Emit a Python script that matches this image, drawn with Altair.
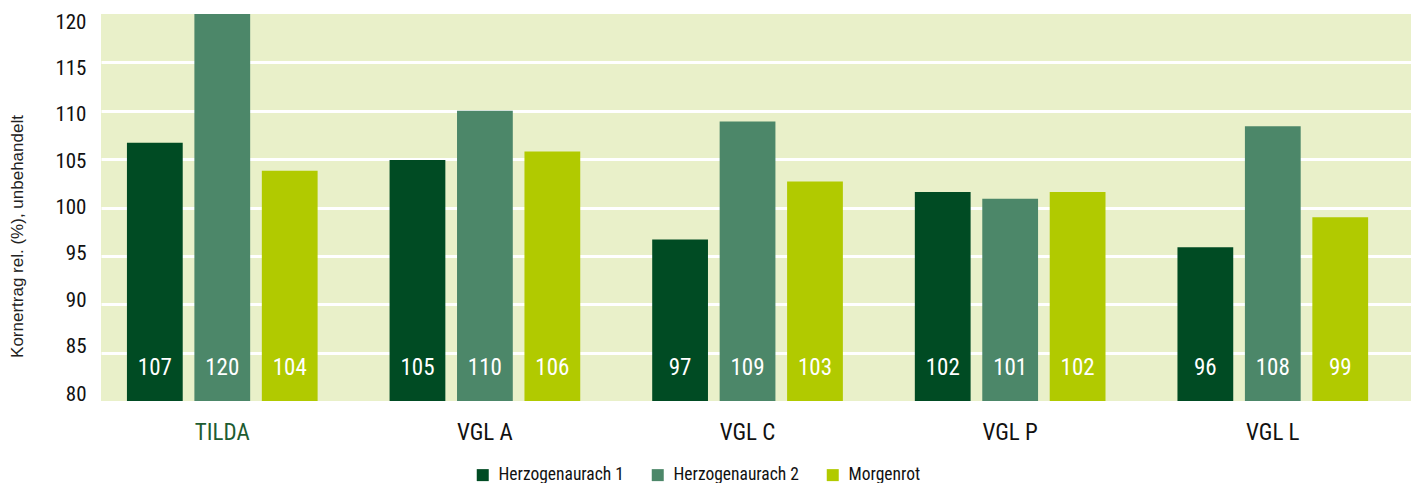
import altair as alt
import pandas as pd

groups = ["TILDA", "VGL A", "VGL C", "VGL P", "VGL L"]
series = ["Herzogenaurach 1", "Herzogenaurach 2", "Morgenrot"]
h1_vals = [106.7, 104.9, 96.7, 101.6, 95.9]
h2_vals = [120.0, 110.0, 108.9, 100.9, 108.4]
mr_vals = [103.8, 105.8, 102.7, 101.6, 99.0]
h1_lab = ["107", "105", "97", "102", "96"]
h2_lab = ["120", "110", "109", "101", "108"]
mr_lab = ["104", "106", "103", "102", "99"]
y_ticks = [80, 85, 90, 95, 100, 105, 110, 115, 120]
colors = ["#004B23", "#4C8769", "#B1CA00"]

rows = []
for s, vals, labs in zip(series, [h1_vals, h2_vals, mr_vals], [h1_lab, h2_lab, mr_lab]):
    for g, v, l in zip(groups, vals, labs):
        rows.append({"Gruppe": g, "Serie": s, "Wert": v, "Label": l})
df = pd.DataFrame(rows)

FONT = "'Roboto Condensed', 'Liberation Sans Narrow', 'Arial Narrow', 'DejaVu Sans Condensed', sans-serif"

# tick labels sit slightly compressed towards the middle, as in the original
label_shift = {120: 8, 115: 6, 110: 4, 105: 2, 100: 0, 95: -2, 90: -4, 85: -6, 80: -7}
offset_cond = {
    "condition": [{"test": f"datum.value == {v}", "value": o} for v, o in label_shift.items() if o != 0],
    "value": 0,
}

x = alt.X(
    "Gruppe:N", sort=groups, title=None,
    scale=alt.Scale(paddingInner=0.274, paddingOuter=0.131, align=0.377),
    axis=alt.Axis(
        labelAngle=0, ticks=False, domain=False, labelPadding=20,
        labelFont=FONT, labelFontSize=23,
        labelColor=alt.condition("datum.value == 'TILDA'", alt.value("#1D5C31"), alt.value("#111111")),
    ),
)
xoff = alt.XOffset("Serie:N", sort=series, scale=alt.Scale(paddingInner=0.173, paddingOuter=0))

y = alt.Y(
    "Wert:Q",
    scale=alt.Scale(domain=[80, 120], nice=False, clamp=True),
    title="Kornertrag rel. (%), unbehandelt",
    axis=alt.Axis(
        values=y_ticks, ticks=False, domain=False, labelPadding=15,
        labelFont=FONT, labelFontSize=21, labelColor="#111111",
        labelOffset=offset_cond,
        gridColor="white", gridWidth=3,
        gridOpacity=alt.condition("datum.value == 80 || datum.value == 120", alt.value(0), alt.value(1)),
        titleFont="Liberation Sans", titleFontSize=17, titleFontWeight="normal", titleColor="#222222",
        titleAngle=-90, titleBaseline="middle", titleX=-84, titleY=222, titleAlign="center",
    ),
)

bars = alt.Chart(df).mark_bar(width={"band": 1}).encode(
    x=x, xOffset=xoff, y=y,
    color=alt.Color(
        "Serie:N", sort=series, title=None,
        scale=alt.Scale(domain=series, range=colors),
        legend=alt.Legend(
            orient="none", direction="horizontal", legendX=373, legendY=452,
            symbolType="square", symbolSize=144, symbolStrokeWidth=0, symbolOpacity=1,
            labelFont=FONT, labelFontSize=17.5, labelColor="#111111", labelOffset=7,
            columnPadding=25, padding=0,
        ),
    ),
)

texts = alt.Chart(df).mark_text(
    font=FONT, fontSize=23, color="white", baseline="alphabetic", dy=-26
).encode(
    x=x, xOffset=xoff, y=alt.datum(80), text="Label:N"
)

chart = (bars + texts).properties(
    width=1310, height=387,
    autosize=alt.AutoSizeParams(type="none"),
    padding={"left": 93, "top": 6, "right": 0, "bottom": 82},
).configure_view(fill="#E9F0C9", stroke=None)

chart.save("out.html", embed_options={"renderer": "svg", "actions": False})
